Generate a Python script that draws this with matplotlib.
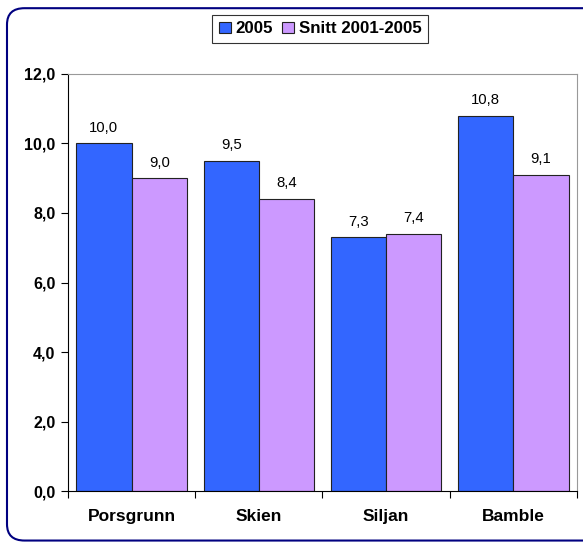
import numpy as np
import matplotlib
matplotlib.use('Agg')
import matplotlib.pyplot as plt
from matplotlib.patches import FancyBboxPatch

plt.rcParams['font.family'] = ['Liberation Sans', 'DejaVu Sans']

# data
kommuner = ['Porsgrunn', 'Skien', 'Siljan', 'Bamble']
v2005 = [10.0, 9.5, 7.3, 10.8]
snitt = [9.0, 8.4, 7.4, 9.1]
series_names = ['2005', 'Snitt 2001-2005']

fig = plt.figure(figsize=(5.83, 5.46), dpi=100)

# outer rounded frame (behind the axes)
frame = FancyBboxPatch((0.012, 0.01), 1.05, 0.975, transform=fig.transFigure,
                       boxstyle='round,pad=0,rounding_size=0.03',
                       facecolor='white', edgecolor='#000080', linewidth=1.5,
                       clip_on=False, zorder=-10)
fig.patches.append(frame)

ax = fig.add_axes([0.1166, 0.1007, 0.8731, 0.7638])
ax.set_facecolor('none')
x = np.arange(len(kommuner))
w = 0.435
b1 = ax.bar(x - w / 2, v2005, w, color='#3366FF', edgecolor='#222222',
            linewidth=0.8, label=series_names[0])
b2 = ax.bar(x + w / 2, snitt, w, color='#CC99FF', edgecolor='#222222',
            linewidth=0.8, label=series_names[1])

for bars in (b1, b2):
    for r in bars:
        h = r.get_height()
        ax.text(r.get_x() + r.get_width() / 2, h + 0.25,
                f'{h:.1f}'.replace('.', ','), ha='center', va='bottom',
                fontsize=10.7)

ax.set_xlim(-0.5, 3.5)
ax.set_ylim(0, 12)
ax.set_yticks(np.arange(0, 12.1, 2))
ax.set_yticklabels([f'{t:.1f}'.replace('.', ',') for t in np.arange(0, 12.1, 2)],
                   fontweight='bold', fontsize=11.5)
ax.set_xticks(np.arange(-0.5, 3.6, 1))
ax.set_xticklabels([])
ax.set_xticks(x, minor=True)
ax.set_xticklabels(kommuner, minor=True, fontweight='bold', fontsize=12.5)
ax.tick_params(axis='x', which='minor', length=0, pad=13)
ax.tick_params(axis='x', which='major', length=5, direction='out')
ax.tick_params(axis='y', length=5, direction='out', pad=4)
ax.spines['top'].set_color('#999999')
ax.spines['right'].set_color('#999999')

leg = fig.legend(handles=[b1, b2], labels=series_names, loc='center',
                 bbox_to_anchor=(0.549, 0.947), ncol=2, frameon=True,
                 fancybox=False, edgecolor='black', handlelength=0.7,
                 handleheight=0.7, handletextpad=0.3, columnspacing=0.5,
                 borderpad=0.4, prop={'weight': 'bold', 'size': 12.2})
leg.get_frame().set_linewidth(0.8)

fig.savefig('out.png', dpi=100)
